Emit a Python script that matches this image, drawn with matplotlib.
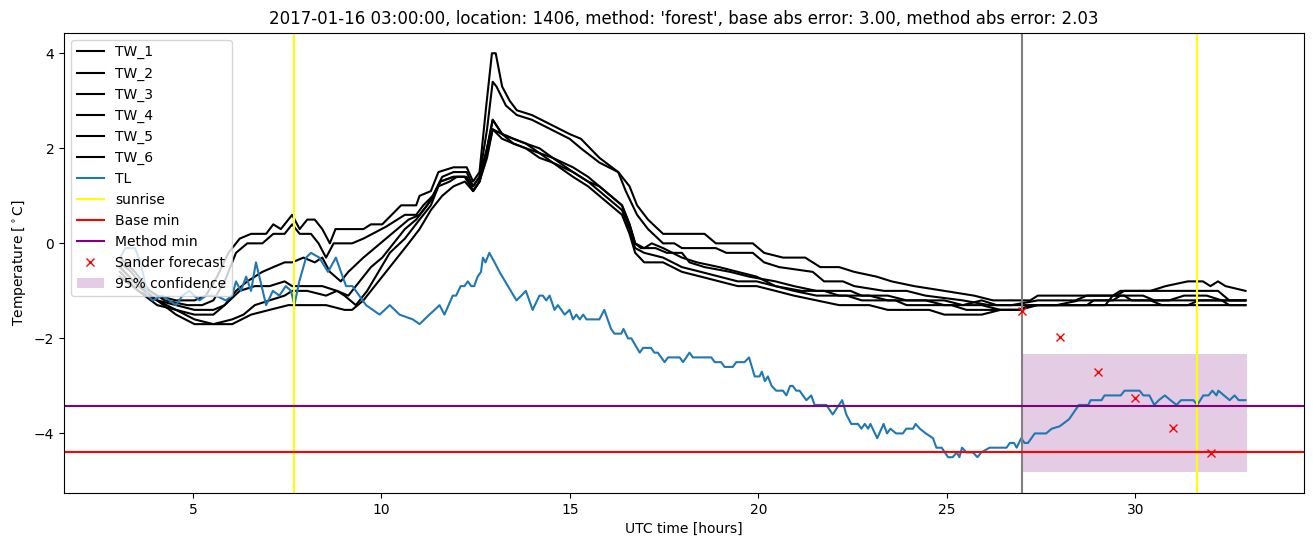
import matplotlib
matplotlib.use("Agg")
import matplotlib.pyplot as plt

# ---------------- data ----------------
TW_1 = [(3.06,-0.4),(3.36,-0.6),(3.65,-0.9),(4.05,-1.1),(4.55,-1.2),(5.04,-1.2),(5.34,-1.1),(5.64,-0.7),
        (5.94,-0.2),(6.24,0.1),(6.54,0.2),(6.94,0.2),(7.13,0.4),(7.33,0.3),(7.63,0.6),(7.83,0.3),(8.03,0.5),
        (8.23,0.5),(8.43,0.3),(8.63,0.0),(8.78,0.3),(9.02,0.3),(9.52,0.3),(9.72,0.4),(10.02,0.4),(10.52,0.8),
        (10.92,0.8),(11.01,1.0),(11.31,1.1),(11.51,1.5),(11.91,1.6),(12.26,1.6),(12.43,1.3),(12.6,1.5),
        (12.78,2.9),(12.93,4.0),(13.03,4.0),(13.2,3.3),(13.4,3.0),(13.59,2.8),(13.99,2.7),(14.49,2.5),
        (14.99,2.3),(15.29,2.2),(15.78,1.8),(16.28,1.5),(16.58,1.2),(16.78,0.8),(17.07,0.5),(17.47,0.2),
        (18.57,0.2),(18.87,0.0),(19.85,0.0),(20.15,-0.2),(20.65,-0.3),(21.24,-0.3),(21.64,-0.5),(22.14,-0.5),
        (22.54,-0.6),(23.13,-0.7),(23.53,-0.8),(24.13,-0.9),(24.93,-1.0),(25.72,-1.1),(26.22,-1.2),
        (27.21,-1.2),(27.41,-1.1),(29.4,-1.1),(29.6,-1.0),(30.4,-1.0),(30.8,-0.9),(31.39,-0.8),(31.79,-0.8),
        (31.99,-0.9),(32.19,-0.8),(32.39,-0.9),(32.92,-1.0)]
TW_2 = [(3.06,-0.3),(3.46,-0.6),(3.85,-1.0),(4.25,-1.2),(4.85,-1.3),(5.24,-1.3),(5.54,-1.2),(5.84,-0.8),
        (6.14,-0.2),(6.44,0.0),(6.84,0.0),(7.13,0.2),(7.43,0.2),(7.63,0.4),(7.83,0.2),(8.13,0.2),(8.33,0.0),
        (8.53,-0.3),(8.73,0.0),(9.22,0.0),(9.52,0.1),(10.12,0.35),(10.62,0.6),(10.92,0.6),(11.11,0.8),
        (11.36,1.0),(11.61,1.4),(11.91,1.5),(12.26,1.5),(12.43,1.2),(12.6,1.4),(12.8,2.4),(12.95,3.4),
        (13.05,3.3),(13.3,2.9),(13.59,2.7),(13.99,2.6),(14.49,2.4),(14.99,2.2),(15.29,2.0),(15.78,1.7),
        (16.28,1.5),(16.48,1.1),(16.78,0.6),(17.07,0.3),(17.47,0.0),(17.77,0.0),(17.97,-0.1),(18.87,-0.1),
        (19.15,-0.2),(19.85,-0.2),(20.15,-0.4),(20.55,-0.5),(21.44,-0.6),(21.74,-0.8),(22.24,-0.8),
        (22.54,-0.9),(23.33,-1.0),(23.93,-1.0),(24.43,-1.1),(25.42,-1.2),(26.12,-1.3),(26.72,-1.3),
        (27.41,-1.2),(28.41,-1.2),(28.71,-1.1),(29.5,-1.1),(29.7,-1.0),(30.9,-1.0),(31.39,-1.0),(32.19,-1.0),
        (32.49,-1.2),(32.92,-1.2)]
TW_3 = [(3.06,-0.5),(3.55,-0.9),(4.05,-1.2),(4.55,-1.4),(5.04,-1.5),(5.54,-1.5),(5.84,-1.3),(6.14,-1.0),
        (6.44,-0.8),(6.84,-0.6),(7.13,-0.5),(7.43,-0.4),(7.63,-0.4),(7.93,-0.3),(8.23,-0.4),(8.43,-0.3),
        (8.63,-0.6),(8.92,-0.8),(9.12,-0.6),(9.52,-0.3),(9.82,-0.1),(10.12,0.1),(10.42,0.3),(10.72,0.5),
        (11.01,0.6),(11.31,0.9),(11.56,1.3),(11.91,1.4),(12.21,1.4),(12.43,1.2),(12.6,1.4),(12.8,2.0),
        (12.95,2.6),(13.2,2.3),(13.5,2.2),(13.83,2.1),(14.19,1.9),(14.54,1.8),(15.08,1.5),(15.48,1.3),
        (15.78,1.2),(16.08,1.0),(16.38,0.8),(16.58,0.4),(16.73,0.0),(16.88,-0.1),(17.27,-0.1),(17.57,-0.2),
        (17.97,-0.2),(18.17,-0.4),(18.57,-0.5),(19.25,-0.6),(19.75,-0.7),(20.45,-0.8),(20.94,-0.9),
        (21.54,-1.0),(22.44,-1.0),(22.74,-1.1),(23.43,-1.1),(23.93,-1.2),(24.93,-1.2),(25.42,-1.3),
        (25.92,-1.2),(26.32,-1.3),(26.91,-1.3),(27.91,-1.3),(28.51,-1.2),(29.4,-1.2),(29.6,-1.1),(30.2,-1.1),
        (30.5,-1.2),(31.39,-1.2),(31.89,-1.2),(32.92,-1.2)]
TW_4 = [(3.06,-0.6),(3.55,-1.0),(4.05,-1.3),(4.55,-1.4),(5.04,-1.6),(5.54,-1.7),(6.04,-1.6),(6.34,-1.5),
        (6.64,-1.3),(7.03,-1.2),(7.43,-1.1),(7.63,-1.0),(8.03,-1.0),(8.53,-1.1),(8.82,-1.0),(9.02,-1.1),
        (9.32,-1.3),(9.62,-1.0),(9.92,-0.6),(10.22,-0.2),(10.62,0.1),(11.01,0.5),(11.31,0.8),(11.56,1.3),
        (11.91,1.4),(12.21,1.4),(12.43,1.1),(12.6,1.3),(12.8,1.9),(12.95,2.4),(13.2,2.3),(13.5,2.1),
        (13.83,2.0),(14.19,1.9),(14.54,1.7),(15.08,1.5),(15.48,1.3),(15.78,1.1),(16.08,0.9),(16.38,0.7),
        (16.58,0.3),(16.73,-0.1),(16.97,-0.2),(17.47,-0.3),(17.97,-0.5),(18.47,-0.6),(18.96,-0.7),
        (19.45,-0.8),(19.95,-0.8),(20.45,-0.9),(20.94,-1.0),(21.54,-1.1),(22.34,-1.1),(22.74,-1.2),
        (23.63,-1.2),(23.93,-1.3),(25.12,-1.3),(25.52,-1.4),(26.42,-1.4),(26.91,-1.4),(27.21,-1.3),
        (28.71,-1.3),(28.9,-1.2),(30.4,-1.2),(30.7,-1.3),(31.39,-1.3),(31.69,-1.2),(32.29,-1.2),(32.49,-1.3),
        (32.92,-1.3)]
TW_5 = [(3.06,-0.5),(3.55,-0.9),(4.05,-1.2),(4.55,-1.3),(5.04,-1.4),(5.54,-1.4),(5.84,-1.3),(6.24,-1.0),
        (6.64,-0.9),(7.03,-0.9),(7.43,-0.8),(7.63,-0.9),(8.03,-0.9),(8.43,-0.9),(8.82,-1.0),(9.12,-1.1),
        (9.42,-0.8),(9.72,-0.5),(10.02,-0.3),(10.32,0.0),(10.62,0.3),(10.92,0.5),(11.21,0.8),(11.51,1.2),
        (11.81,1.3),(12.0,1.4),(12.26,1.4),(12.43,1.1),(12.6,1.3),(12.8,2.0),(12.95,2.6),(13.2,2.3),
        (13.5,2.2),(13.83,2.1),(14.19,2.0),(14.54,1.8),(15.08,1.6),(15.48,1.4),(15.78,1.2),(16.08,1.0),
        (16.38,0.8),(16.58,0.4),(16.73,0.0),(16.97,-0.1),(17.17,0.0),(17.47,-0.1),(17.97,-0.3),(18.37,-0.4),
        (18.96,-0.5),(19.45,-0.6),(19.95,-0.7),(20.45,-0.9),(21.14,-1.0),(21.74,-1.0),(22.14,-1.1),
        (22.94,-1.1),(23.43,-1.2),(24.43,-1.2),(24.93,-1.3),(25.92,-1.3),(26.42,-1.4),(26.91,-1.4),
        (27.31,-1.3),(29.2,-1.3),(29.4,-1.1),(29.7,-1.1),(29.9,-1.2),(30.89,-1.2),(31.29,-1.1),(31.89,-1.1),
        (32.29,-1.2),(32.92,-1.2)]
TW_6 = [(3.06,-0.7),(3.55,-1.0),(4.05,-1.2),(4.55,-1.5),(5.04,-1.7),(5.54,-1.7),(6.04,-1.7),(6.54,-1.5),
        (7.03,-1.4),(7.53,-1.3),(8.03,-1.3),(8.53,-1.3),(9.02,-1.4),(9.22,-1.4),(9.52,-1.2),(9.82,-0.9),
        (10.12,-0.6),(10.42,-0.3),(10.72,0.0),(11.01,0.3),(11.31,0.7),(11.61,1.0),(11.91,1.2),(12.21,1.3),
        (12.43,1.1),(12.6,1.3),(12.8,1.8),(12.95,2.4),(13.2,2.2),(13.5,2.1),(13.83,2.0),(14.19,1.8),
        (14.54,1.7),(15.08,1.4),(15.48,1.2),(15.78,1.0),(16.08,0.8),(16.38,0.6),(16.58,0.2),(16.73,-0.2),
        (16.97,-0.4),(17.47,-0.4),(17.97,-0.6),(18.47,-0.7),(18.96,-0.8),(19.45,-0.9),(19.95,-0.9),
        (20.45,-1.0),(20.94,-1.1),(21.54,-1.2),(22.14,-1.3),(22.94,-1.3),(23.43,-1.4),(24.53,-1.4),
        (24.93,-1.5),(25.92,-1.5),(26.42,-1.4),(26.91,-1.4),(27.41,-1.3),(32.92,-1.3)]

TL = [(3.06,-0.3),(3.21,-0.1),(3.46,-0.1),(3.61,-0.4),(3.80,-1.1),(3.93,-1.2),(4.19,-1.1),(4.37,-1.2),
      (4.55,-1.3),(4.72,-1.1),(4.90,-1.0),(5.17,-1.2),(5.35,-1.1),(5.61,-1.1),(5.87,-1.2),(6.04,-1.1),
      (6.14,-0.8),(6.27,-1.0),(6.41,-0.7),(6.54,-1.0),(6.67,-0.4),(6.85,-1.0),(6.94,-1.3),(7.12,-1.0),
      (7.29,-1.1),(7.46,-0.9),(7.60,-1.0),(7.69,-1.3),(7.82,-0.8),(8.00,-0.3),(8.13,-0.2),(8.35,-0.3),
      (8.58,-0.6),(8.79,-0.3),(8.97,-0.7),(9.06,-0.9),(9.23,-0.9),(9.41,-1.1),(9.59,-1.3),(9.95,-1.5),
      (10.22,-1.3),(10.48,-1.5),(10.83,-1.6),(11.01,-1.7),(11.27,-1.5),(11.41,-1.4),(11.54,-1.3),
      (11.67,-1.5),(11.89,-1.1),(11.98,-1.1),(12.10,-0.9),(12.20,-0.9),(12.29,-0.8),(12.38,-0.9),
      (12.46,-0.9),(12.55,-0.7),(12.64,-0.6),(12.69,-0.3),(12.76,-0.4),(12.86,-0.2),(13.00,-0.4),
      (13.13,-0.6),(13.58,-1.2),(13.71,-1.1),(13.83,-1.0),(14.01,-1.4),(14.19,-1.1),(14.28,-1.1),
      (14.37,-1.2),(14.46,-1.1),(14.59,-1.4),(14.68,-1.3),(14.86,-1.5),(14.99,-1.4),(15.08,-1.6),
      (15.17,-1.5),(15.26,-1.6),(15.35,-1.5),(15.44,-1.6),(15.78,-1.6),(15.91,-1.4),(16.09,-1.8),
      (16.18,-1.9),(16.36,-1.9),(16.42,-1.8),(16.54,-2.0),(16.63,-2.0),(16.85,-2.3),(16.94,-2.2),
      (17.15,-2.2),(17.24,-2.3),(17.33,-2.3),(17.51,-2.5),(17.60,-2.4),(17.91,-2.4),(18.00,-2.5),
      (18.17,-2.3),(18.26,-2.4),(18.75,-2.4),(18.84,-2.5),(19.01,-2.5),(19.10,-2.6),(19.32,-2.6),
      (19.41,-2.5),(19.63,-2.5),(19.75,-2.4),(19.90,-2.8),(20.03,-2.8),(20.09,-2.7),(20.17,-2.9),
      (20.25,-2.8),(20.35,-3.0),(20.47,-3.1),(20.65,-3.1),(20.74,-3.2),(20.84,-3.0),(20.91,-3.0),
      (21.00,-3.1),(21.09,-3.1),(21.27,-3.3),(21.40,-3.2),(21.49,-3.4),(21.80,-3.4),(21.97,-3.6),
      (22.22,-3.3),(22.33,-3.6),(22.46,-3.8),(22.64,-3.8),(22.73,-3.9),(22.82,-3.8),(22.91,-3.9),
      (22.97,-3.8),(23.15,-4.1),(23.32,-3.8),(23.41,-4.0),(23.50,-3.9),(23.65,-4.0),(23.83,-4.0),
      (23.92,-3.9),(24.10,-3.9),(24.17,-3.8),(24.28,-3.9),(24.44,-4.0),(24.63,-4.1),(24.72,-4.3),
      (24.86,-4.3),(25.03,-4.5),(25.15,-4.5),(25.26,-4.4),(25.33,-4.5),(25.40,-4.3),(25.52,-4.4),
      (25.69,-4.4),(25.81,-4.5),(25.91,-4.4),(26.13,-4.3),(26.58,-4.3),(26.67,-4.2),(26.78,-4.2),
      (26.85,-4.3),(26.97,-4.1),(27.06,-4.2),(27.15,-4.2),(27.33,-4.0),(27.63,-4.0),(27.78,-3.9),
      (27.99,-3.85),(28.24,-3.7),(28.50,-3.4),(28.75,-3.4),(28.81,-3.3),(29.10,-3.3),(29.18,-3.2),
      (29.30,-3.2),(29.61,-3.2),(29.71,-3.1),(29.87,-3.1),(30.11,-3.1),(30.21,-3.2),(30.37,-3.2),
      (30.50,-3.4),(30.62,-3.3),(30.78,-3.2),(30.93,-3.3),(31.09,-3.4),(31.21,-3.3),(31.54,-3.3),
      (31.64,-3.4),(31.80,-3.2),(31.94,-3.2),(32.04,-3.1),(32.15,-3.2),(32.20,-3.1),(32.35,-3.2),
      (32.50,-3.3),(32.63,-3.2),(32.74,-3.3),(32.92,-3.3)]

tw_names = ["TW_1", "TW_2", "TW_3", "TW_4", "TW_5", "TW_6"]
tw_series = [TW_1, TW_2, TW_3, TW_4, TW_5, TW_6]

sunrise_hours = [7.68, 31.62]
forecast_time = 27.0
base_min = -4.40
method_min = -3.43
sander_hours = [27, 28, 29, 30, 31, 32]
sander_values = [-1.42, -1.97, -2.71, -3.26, -3.89, -4.41]
conf_hours = [27.0, 32.95]
conf_low = -4.82
conf_high = -2.33

title = ("2017-01-16 03:00:00, location: 1406, method: 'forest', "
         "base abs error: 3.00, method abs error: 2.03")

# ---------------- plot ----------------
fig = plt.figure(figsize=(13.13, 5.47), dpi=100)
ax = fig.add_axes([0.0488, 0.099, 0.9443, 0.841])

for name, s in zip(tw_names, tw_series):
    t, v = zip(*s)
    ax.plot(t, v, color="black", label=name)
t, v = zip(*TL)
ax.plot(t, v, color="tab:blue", label="TL")
for i, h in enumerate(sunrise_hours):
    ax.axvline(h, color="yellow", label="sunrise" if i == 0 else None)
ax.axvline(forecast_time, color="grey")
ax.axhline(base_min, color="red", label="Base min")
ax.axhline(method_min, color="purple", label="Method min")
ax.plot(sander_hours, sander_values, "rx", label="Sander forecast")
ax.fill_between(conf_hours, [conf_low] * 2, [conf_high] * 2, color="purple",
                alpha=0.2, linewidth=0, label="95% confidence")

ax.set_xlim(1.58, 34.47)
ax.set_ylim(-5.25, 4.43)
ax.set_title(title)
ax.set_xlabel("UTC time [hours]")
ax.set_ylabel(r"Temperature [$^\circ$C]")
ax.legend(loc="upper left")

fig.savefig("out.png", dpi=100)
